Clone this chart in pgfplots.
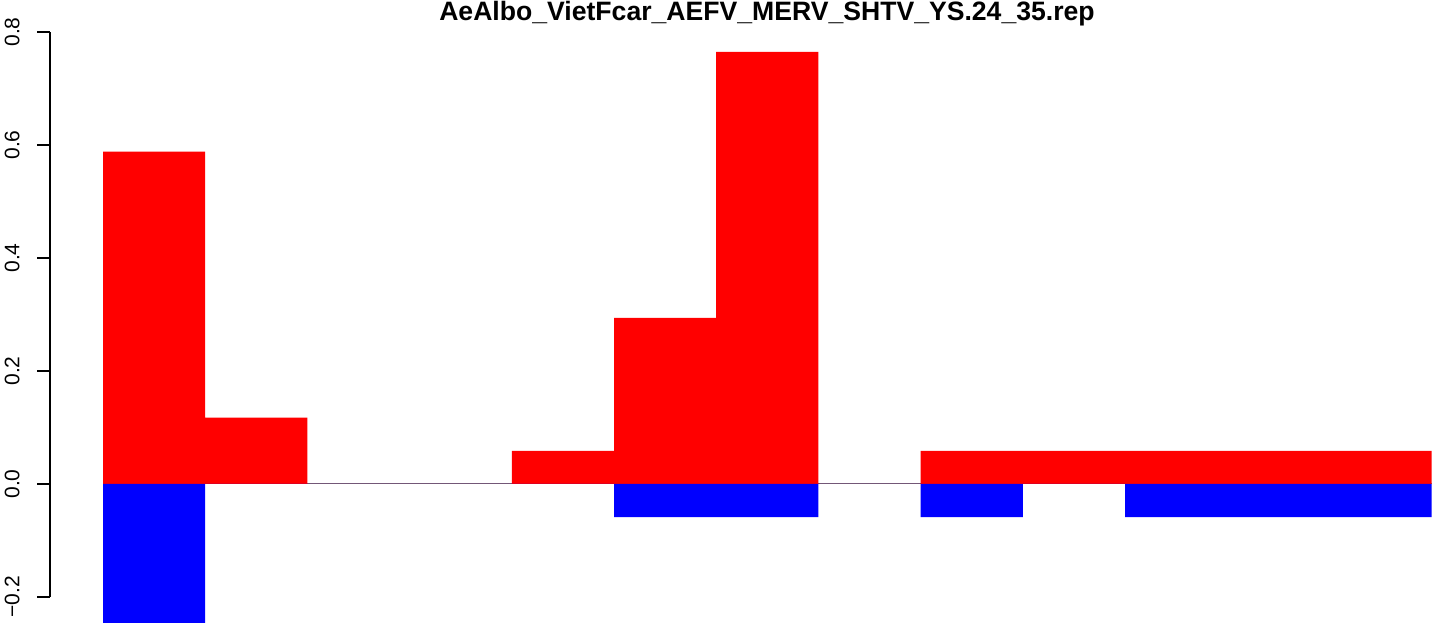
\documentclass[border=0pt]{standalone}
\usepackage{fontspec}
\setmainfont{Liberation Sans}
\usepackage{pgfplots}
\pgfplotsset{compat=1.18}

\definecolor{rred}{RGB}{255,0,0}
\definecolor{rblue}{RGB}{0,0,255}

\begin{document}
\begin{tikzpicture}
\begin{axis}[
    scale only axis,
    width=699.5pt, height=295.5pt,
    xmin=-0.519, xmax=13.17,
    ymin=-0.246, ymax=0.8,
    clip mode=individual,
    axis line style={draw=none},
    xtick=\empty,
    ytick={-0.2,0,0.2,0.4,0.6,0.8},
    yticklabels={−0.2,0.0,0.2,0.4,0.6,0.8},
    tick pos=left,
    tick align=outside,
    major tick length=6.5pt,
    ytick style={black, line width=0.65pt},
    yticklabel style={xshift=-8.5pt, rotate=90, anchor=south, inner sep=0pt,
        font=\fontsize{10.5}{12}\selectfont},
    title={AeAlbo\_VietFcar\_AEFV\_MERV\_SHTV\_YS.24\_35.rep},
    every axis title/.style={at={(0.5125,1)}, anchor=base, yshift=5.5pt,
        inner sep=0pt, font=\bfseries\fontsize{13.3}{15}\selectfont},
]
% baseline and left axis line as R draws them
\draw[black!55, line width=0.5pt] (axis cs:0,0) -- (axis cs:13,0);
\draw[black, line width=0.65pt] (axis cs:-0.519,-0.2) -- (axis cs:-0.519,0.8);

% positive part (red)
\addplot[ybar, bar width=1, bar shift=0pt, fill=rred, draw=none] coordinates {
    (0.5,0.5882) (1.5,0.1176) (2.5,0) (3.5,0) (4.5,0.0588) (5.5,0.2941)
    (6.5,0.7647) (7.5,0) (8.5,0.0588) (9.5,0.0588) (10.5,0.0588)
    (11.5,0.0588) (12.5,0.0588)
};
% negative part (blue)
\addplot[ybar, bar width=1, bar shift=0pt, fill=rblue, draw=none] coordinates {
    (0.5,-0.2941) (1.5,0) (2.5,0) (3.5,0) (4.5,0) (5.5,-0.0588)
    (6.5,-0.0588) (7.5,0) (8.5,-0.0588) (9.5,0) (10.5,-0.0588)
    (11.5,-0.0588) (12.5,-0.0588)
};
\end{axis}
\pgfresetboundingbox
\path[use as bounding box] ([xshift=-25pt]current axis.south west)
    rectangle ([yshift=16pt]current axis.north east);
\end{tikzpicture}
\end{document}
